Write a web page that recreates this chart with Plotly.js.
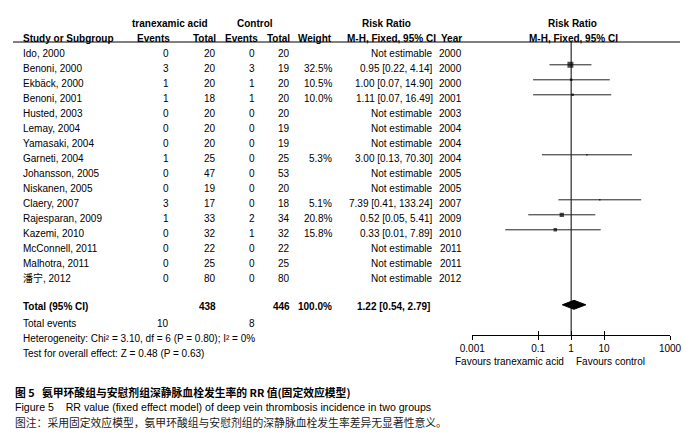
<!DOCTYPE html>
<html>
<head>
<meta charset="utf-8">
<script src="https://cdn.plot.ly/plotly-3.0.1.min.js"></script>
<style>html,body{margin:0;padding:0;background:#fff;}#chart{width:693px;height:442px;}</style>
</head>
<body>
<div id="chart"></div>
<script>
// ---------- data ----------
const studies = ["Ido, 2000","Benoni, 2000","Ekbäck, 2000","Benoni, 2001","Husted, 2003","Lemay, 2004","Yamasaki, 2004","Garneti, 2004","Johansson, 2005","Niskanen, 2005","Claery, 2007","Rajesparan, 2009","Kazemi, 2010","McConnell, 2011","Malhotra, 2011","潘宁, 2012"];
const txEvents = [0,3,1,1,0,0,0,1,0,0,3,1,0,0,0,0];
const txTotal  = [20,20,20,18,20,20,20,25,47,19,17,33,32,22,25,80];
const ctEvents = [0,3,1,1,0,0,0,0,0,0,0,2,1,0,0,0];
const ctTotal  = [20,19,20,20,20,19,19,25,53,20,18,34,32,22,25,80];
const weights  = [null,32.5,10.5,10.0,null,null,null,5.3,null,null,5.1,20.8,15.8,null,null,null];
const rr       = [null,0.95,1.00,1.11,null,null,null,3.00,null,null,7.39,0.52,0.33,null,null,null];
const ciLow    = [null,0.22,0.07,0.07,null,null,null,0.13,null,null,0.41,0.05,0.01,null,null,null];
const ciHigh   = [null,4.14,14.90,16.49,null,null,null,70.30,null,null,133.24,5.41,7.89,null,null,null];
const years    = [2000,2000,2000,2001,2003,2004,2004,2004,2005,2005,2007,2009,2010,2011,2011,2012];
const totalRR = 1.22, totalLow = 0.54, totalHigh = 2.79;
const totalWeight = "100.0%";
const heterogeneity = "Heterogeneity: Chi² = 3.10, df = 6 (P = 0.80); I² = 0%";
const overallTest = "Test for overall effect: Z = 0.48 (P = 0.63)";
const tickVals = [0.001, 0.1, 1, 10, 1000];
const tickText = ["0.001", "0.1", "1", "10", "1000"];
const favoursLeft = "Favours tranexamic acid";
const favoursRight = "Favours control";
const caption1 = "图 5\u00a0\u00a0\u00a0氨甲环酸组与安慰剂组深静脉血栓发生率的 RR 值(固定效应模型)";
const caption2 = "Figure 5\u00a0\u00a0\u00a0\u00a0RR value (fixed effect model) of deep vein thrombosis incidence in two groups";
const caption3 = "图注：采用固定效应模型，氨甲环酸组与安慰剂组的深静脉血栓发生率差异无显著性意义。";

// ---------- layout helpers ----------
const W = 693, H = 442;
const F = "Liberation Sans, Arial, Noto Sans CJK SC, sans-serif";
const CJK = "Noto Sans CJK SC, sans-serif";
const rowTopPx = 49.8, rowStep = 15;
const yTop = -rowTopPx / rowStep, yBot = (H - rowTopPx) / rowStep;
const n = studies.length;
const totalRow = 17, eventsRow = 18, hetRow = 19, testRow = 20;
const axisPx = 335;
const axisRow = (axisPx - rowTopPx) / rowStep;
const headerLineRow = (42 - rowTopPx) / rowStep;

const anns = [];
function ann(text, xpx, row, anchor, bold, shift) {
  anns.push({text: bold ? "<b>" + text + "</b>" : text, x: xpx / W, xref: "paper", y: row, yref: "y",
    xanchor: anchor, yanchor: "middle", showarrow: false, yshift: shift === undefined ? -3.5 : shift,
    font: {family: F, size: 10, color: "#000"}});
}
// headers
ann("tranexamic acid", 170, -2, "center", true);
ann("Control", 255, -2, "center", true);
ann("Risk Ratio", 386, -2, "center", true);
ann("Risk Ratio", 572, -2, "center", true);
ann("Study or Subgroup", 21, -1, "left", true);
ann("Events", 172, -1, "right", true);
ann("Total", 218, -1, "right", true);
ann("Events", 260, -1, "right", true);
ann("Total", 292, -1, "right", true);
ann("Weight", 334, -1, "right", true);
ann("M-H, Fixed, 95% CI", 438, -1, "right", true);
ann("Year", 464, -1, "right", true);
ann("M-H, Fixed, 95% CI", 573, -1, "center", true);
// study rows
for (let i = 0; i < n; i++) {
  ann(studies[i], 21, i, "left");
  ann(String(txEvents[i]), 171, i, "right");
  ann(String(txTotal[i]), 218, i, "right");
  ann(String(ctEvents[i]), 257, i, "right");
  ann(String(ctTotal[i]), 292, i, "right");
  if (weights[i] !== null) ann(weights[i].toFixed(1) + "%", 334, i, "right");
  const rrText = rr[i] === null ? "Not estimable" :
    rr[i].toFixed(2) + " [" + ciLow[i].toFixed(2) + ", " + ciHigh[i].toFixed(2) + "]";
  ann(rrText, 435, i, "right");
  ann(String(years[i]), 464, i, "right");
}
const sum = a => a.reduce((s, v) => s + v, 0);
ann("Total (95% CI)", 21, totalRow, "left", true, -2);
ann(String(sum(txTotal)), 218, totalRow, "right", true, -2);
ann(String(sum(ctTotal)), 292, totalRow, "right", true, -2);
ann(totalWeight, 334, totalRow, "right", true, -2);
ann(totalRR.toFixed(2) + " [" + totalLow.toFixed(2) + ", " + totalHigh.toFixed(2) + "]", 432, totalRow, "right", true, -2);
ann("Total events", 21, eventsRow, "left");
ann(String(sum(txEvents)), 171, eventsRow, "right");
ann(String(sum(ctEvents)), 257, eventsRow, "right");
ann(heterogeneity, 21, hetRow, "left");
ann(overallTest, 21, testRow, "left");

// favours labels and captions (paper coords)
function pann(text, xpx, ypx, anchor, font) {
  anns.push({text: text, x: xpx / W, xref: "paper", y: 1 - ypx / H, yref: "paper",
    xanchor: anchor, yanchor: "middle", showarrow: false, font: font});
}
pann(favoursLeft, 566, 361, "right", {family: F, size: 10, color: "#000"});
pann(favoursRight, 574, 361, "left", {family: F, size: 10, color: "#000"});
pann("<b>" + caption1 + "</b>", 13, 392, "left", {family: CJK, size: 10.8, color: "#000"});
pann(caption2, 13, 407, "left", {family: F, size: 10.6, color: "#000"});
pann(caption3, 13, 422, "left", {family: CJK, size: 10.8, color: "#222"});

// ---------- traces ----------
const ciX = [], ciY = [];
for (let i = 0; i < n; i++) {
  if (rr[i] !== null) { ciX.push(ciLow[i], ciHigh[i], null); ciY.push(i, i, null); }
}
const ptX = [], ptY = [], ptS = [];
for (let i = 0; i < n; i++) {
  if (rr[i] !== null) { ptX.push(rr[i]); ptY.push(i); ptS.push(Math.max(1.6, 0.44 * Math.pow(weights[i], 0.75))); }
}
const traces = [
  {type: "scatter", mode: "lines", x: [1, 1], y: [headerLineRow, axisRow],
   line: {color: "#000", width: 1}, hoverinfo: "skip", showlegend: false},
  {type: "scatter", mode: "lines", x: ciX, y: ciY, line: {color: "#222", width: 1},
   hoverinfo: "skip", showlegend: false},
  {type: "scatter", mode: "markers", x: ptX, y: ptY,
   marker: {symbol: "square", size: ptS, color: "#000", line: {width: 0}}, showlegend: false},
  {type: "scatter", mode: "lines", x: [totalLow, totalRR, totalHigh, totalRR, totalLow],
   y: [totalRow, totalRow - 0.3, totalRow, totalRow + 0.3, totalRow],
   fill: "toself", fillcolor: "#000", line: {color: "#000", width: 1}, showlegend: false},
  {type: "scatter", mode: "markers", x: [1], y: [yBot + 100], xaxis: "x2", yaxis: "y",
   marker: {size: 1, opacity: 0}, showlegend: false, hoverinfo: "skip"}
];

const dom = [472.3 / W, 670 / W];
const axPos = 1 - axisPx / H;
const layout = {
  width: W, height: H, autosize: false,
  margin: {l: 0, r: 0, t: 0, b: 0, pad: 0},
  paper_bgcolor: "#fff", plot_bgcolor: "rgba(0,0,0,0)",
  font: {family: F, size: 10, color: "#000"},
  showlegend: false,
  xaxis: {type: "log", range: [-3, 3], domain: dom, anchor: "free", position: axPos,
    showline: true, linecolor: "#000", linewidth: 1, ticks: "outside", ticklen: 4, tickwidth: 1, tickcolor: "#000",
    tickmode: "array", tickvals: tickVals, ticktext: tickText, tickfont: {family: F, size: 10, color: "#000"},
    showgrid: false, zeroline: false, fixedrange: true},
  xaxis2: {type: "log", range: [-3, 3], domain: dom, anchor: "free", position: axPos, overlaying: "x",
    showline: false, ticks: "inside", ticklen: 4, tickwidth: 1, tickcolor: "#000",
    tickmode: "array", tickvals: tickVals, showticklabels: false, showgrid: false, zeroline: false, fixedrange: true},
  yaxis: {range: [yBot, yTop], domain: [0, 1], visible: false, showgrid: false, zeroline: false, fixedrange: true},
  shapes: [
    {type: "line", xref: "paper", yref: "y", x0: 13 / W, x1: 680 / W, y0: headerLineRow, y1: headerLineRow,
     line: {color: "#000", width: 1}}
  ],
  annotations: anns
};
Plotly.newPlot("chart", traces, layout, {staticPlot: true, displayModeBar: false});
</script>
</body>
</html>
